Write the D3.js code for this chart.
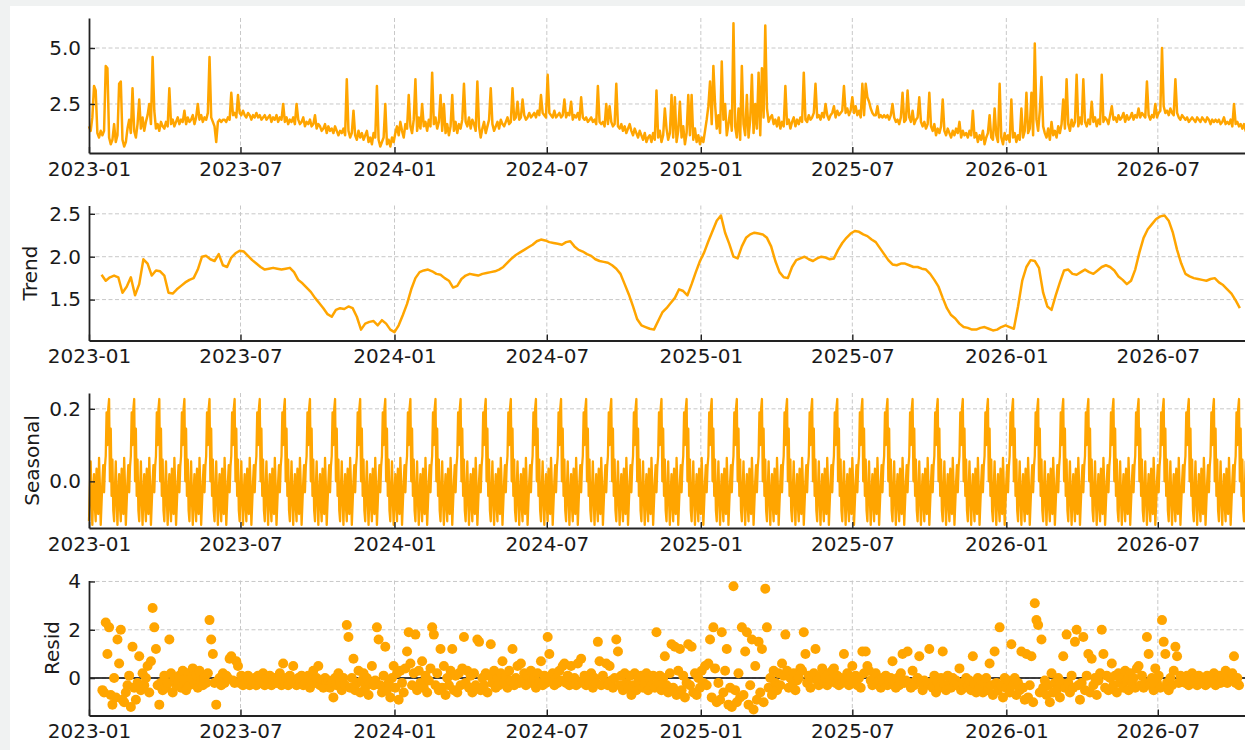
<!DOCTYPE html>
<html>
<head>
<meta charset="utf-8">
<script src="https://cdn.jsdelivr.net/npm/d3@7"></script>
<style>
  body { margin: 0; background: #fff; }
  svg { display: block; font-family: "DejaVu Sans", sans-serif; }
</style>
</head>
<body>
<svg id="chart" width="1245" height="750"></svg>
<script>
// ---- data ----
const startDate = "2023-01-01";
const endDay = 1390;

// observed, one value every 2 days from day 0
const observedStep = 2;
const observed = [
  1.5,1.3,1.9,3.3,3.1,1.2,1.0,1.3,1.1,1.3,4.2,4.1,1.0,0.7,0.9,
  1.6,0.8,1.1,3.4,3.5,0.9,0.6,0.8,1.4,1.8,1.2,3.2,1.3,1.0,1.6,
  2.7,1.4,1.9,1.3,1.7,2.0,2.5,1.6,4.6,2.2,1.4,1.6,1.3,1.7,1.5,
  1.4,1.7,1.5,3.2,1.6,1.8,1.5,1.7,1.9,1.6,1.8,1.7,2.2,1.6,1.9,
  1.7,1.8,2.0,1.6,1.9,2.5,1.8,2.0,1.7,1.9,1.8,2.1,4.6,1.9,1.7,
  1.5,0.8,1.7,1.8,1.7,1.8,1.8,1.7,1.9,1.8,3.0,2.0,2.1,1.9,2.9,
  2.1,2.0,2.2,2.0,1.9,2.1,2.0,1.8,2.0,1.9,2.1,1.9,2.0,1.8,1.9,
  2.0,1.8,1.9,2.0,1.7,1.9,1.8,2.0,1.7,1.9,1.8,2.5,1.7,1.9,1.6,
  1.8,1.7,1.9,1.6,2.5,1.8,1.6,1.7,1.9,1.5,1.7,1.6,1.8,1.5,1.6,
  2.0,1.4,1.6,1.5,1.3,1.4,1.6,1.2,1.5,1.3,1.4,1.2,1.5,1.3,1.1,
  1.3,1.2,1.4,1.1,3.6,1.3,1.0,1.2,2.2,1.1,0.9,1.3,1.0,1.2,0.9,
  1.1,1.3,0.8,1.0,0.7,1.2,1.0,3.3,0.9,0.6,0.8,1.0,2.5,0.7,0.9,
  0.6,1.0,0.8,1.2,1.5,1.1,1.7,1.3,1.0,1.6,1.4,2.9,1.5,1.2,1.8,
  3.6,1.3,1.9,1.4,2.5,1.5,1.7,1.3,1.8,1.5,3.9,1.6,1.9,1.4,1.7,
  2.9,1.3,2.5,1.2,1.6,1.1,1.5,2.9,1.3,1.7,1.2,1.6,1.4,1.8,3.4,
  1.7,1.5,1.9,1.4,1.8,1.6,1.3,3.5,1.5,1.0,1.4,1.7,1.2,1.5,1.8,
  3.2,1.6,1.3,1.5,1.7,1.4,1.8,1.6,1.5,1.7,1.9,1.6,1.7,3.2,1.8,
  1.9,2.6,1.8,1.9,2.7,2.0,1.8,1.9,2.1,1.9,2.0,2.1,1.9,2.2,2.0,
  2.9,2.1,2.0,1.9,3.8,2.1,2.0,1.9,2.2,1.9,2.0,2.1,1.9,2.0,2.7,
  1.9,2.1,2.0,2.6,1.8,2.0,1.9,2.1,1.8,2.8,1.9,1.8,1.9,1.7,1.8,
  1.9,1.7,1.8,1.6,3.3,1.7,1.6,1.7,1.5,2.5,1.6,2.4,1.7,1.5,1.6,
  3.4,1.5,1.4,1.6,1.3,1.5,1.2,1.4,1.6,1.3,1.1,1.4,1.2,1.0,1.3,
  1.1,0.9,1.2,0.8,1.0,1.1,0.8,1.2,0.9,3.1,1.0,1.3,0.8,1.1,2.3,
  1.4,0.9,1.2,2.9,1.0,2.8,0.8,1.3,2.6,1.0,1.5,0.7,1.2,2.9,1.1,
  2.9,0.9,1.4,0.8,1.1,0.7,1.0,0.8,1.3,1.8,2.4,3.5,1.6,4.2,2.5,
  1.4,2.0,1.2,4.4,1.8,2.5,1.1,1.6,2.2,1.3,6.1,1.5,1.0,2.3,0.9,
  4.2,1.6,1.1,2.9,1.0,1.8,3.8,1.2,2.5,1.4,3.9,1.1,4.1,1.9,6.0,
  2.3,1.7,1.9,2.0,1.6,1.8,1.5,1.9,1.4,1.7,1.5,3.3,1.6,1.8,1.4,
  1.7,1.9,1.5,1.8,1.6,1.9,1.7,3.9,1.8,1.7,2.0,1.8,1.9,2.1,3.4,
  1.9,2.0,1.8,2.1,1.9,2.5,2.0,1.8,2.0,2.1,2.4,1.9,2.2,2.0,2.1,
  2.2,3.3,2.1,2.3,2.0,2.2,2.8,2.1,2.4,2.0,2.2,1.9,3.4,2.0,3.4,
  2.8,2.6,2.3,2.1,2.0,2.0,2.4,1.9,2.0,1.9,2.0,1.9,2.0,1.8,2.0,
  2.5,1.9,1.7,1.8,1.6,1.9,3.0,1.7,1.8,3.1,1.9,1.7,2.2,1.6,1.8,
  1.9,2.8,1.7,1.5,1.7,1.4,1.6,3.0,1.5,1.3,1.6,1.1,1.4,1.2,1.5,
  2.7,1.3,1.1,1.4,1.2,1.0,1.3,1.1,1.4,1.2,1.7,1.0,1.3,1.1,1.2,
  1.0,1.3,1.1,2.2,1.0,1.2,0.8,1.1,0.9,1.3,0.7,1.0,1.2,2.0,1.0,
  0.9,2.3,1.1,0.8,3.4,1.0,0.7,1.2,0.9,1.1,0.8,2.7,1.0,1.2,0.8,
  1.1,0.9,2.3,1.0,1.3,3.0,1.2,1.4,3.0,1.1,5.2,1.8,1.3,2.2,3.7,
  1.5,1.2,1.0,1.4,0.9,1.7,1.1,1.3,1.0,1.5,1.2,1.6,2.7,1.4,3.6,
  1.6,1.3,1.8,1.5,1.7,3.8,1.5,1.9,1.6,3.6,1.7,1.5,1.8,1.6,2.6,
  1.7,1.9,1.5,1.8,1.6,3.8,1.7,1.9,1.8,1.6,2.0,2.4,1.8,1.9,1.7,
  2.0,1.8,1.9,2.1,1.7,2.0,1.8,1.9,2.1,1.8,2.0,1.9,2.3,1.9,2.1,
  2.0,1.9,3.5,2.0,1.8,2.0,1.9,2.5,1.9,2.1,2.2,5.0,2.4,2.1,2.2,
  2.0,2.3,2.1,2.0,3.6,2.1,1.9,1.8,2.0,1.9,1.8,1.9,1.7,1.8,1.9,
  1.8,1.7,1.9,1.8,1.7,1.9,1.8,1.7,1.9,1.8,1.6,1.8,1.7,1.8,1.7,
  1.8,1.6,1.7,1.9,1.6,1.7,1.6,1.8,1.5,2.5,1.6,1.7,1.5,1.6,1.4,
  1.6,1.3,1.5,1.3,1.4,1.3
];

// trend, one value every 5 days from day 15
const trendStartDay = 15, trendStep = 5;
const trend = [
  1.79,1.72,1.76,1.78,1.76,1.58,1.65,1.76,1.55,1.68,
  1.97,1.92,1.78,1.84,1.83,1.78,1.58,1.57,1.62,1.66,
  1.70,1.73,1.75,1.85,2.00,2.01,1.97,1.95,2.03,1.90,
  1.88,1.99,2.04,2.07,2.06,2.01,1.96,1.92,1.88,1.85,
  1.86,1.87,1.86,1.85,1.86,1.87,1.82,1.73,1.69,1.64,
  1.59,1.52,1.46,1.40,1.33,1.30,1.38,1.40,1.39,1.42,
  1.40,1.30,1.15,1.22,1.24,1.25,1.20,1.26,1.22,1.15,
  1.12,1.20,1.32,1.45,1.62,1.75,1.82,1.84,1.85,1.83,
  1.80,1.79,1.75,1.72,1.64,1.66,1.74,1.78,1.80,1.79,
  1.78,1.80,1.81,1.82,1.83,1.85,1.88,1.93,1.98,2.02,
  2.05,2.08,2.11,2.14,2.18,2.20,2.19,2.17,2.16,2.15,
  2.14,2.17,2.18,2.12,2.08,2.06,2.03,2.01,1.97,1.95,
  1.94,1.93,1.90,1.86,1.80,1.68,1.56,1.42,1.27,1.20,
  1.18,1.16,1.15,1.25,1.35,1.40,1.46,1.52,1.62,1.60,
  1.55,1.68,1.82,1.95,2.05,2.18,2.30,2.42,2.48,2.28,
  2.15,2.00,1.98,2.12,2.22,2.26,2.28,2.27,2.26,2.22,
  2.12,1.95,1.82,1.76,1.75,1.88,1.96,1.98,2.00,1.97,
  1.95,1.98,2.00,1.99,1.97,1.98,2.08,2.16,2.22,2.27,
  2.30,2.29,2.26,2.24,2.20,2.17,2.10,2.03,1.96,1.91,
  1.90,1.92,1.92,1.90,1.88,1.88,1.86,1.85,1.80,1.73,
  1.65,1.52,1.40,1.32,1.28,1.22,1.18,1.17,1.15,1.15,
  1.17,1.18,1.16,1.14,1.15,1.18,1.20,1.18,1.16,1.42,
  1.72,1.88,1.96,1.95,1.87,1.58,1.42,1.38,1.55,1.70,
  1.84,1.85,1.80,1.79,1.82,1.85,1.82,1.80,1.84,1.88,
  1.90,1.88,1.84,1.77,1.73,1.68,1.72,1.85,2.05,2.22,
  2.32,2.38,2.44,2.47,2.48,2.42,2.28,2.08,1.92,1.80,
  1.77,1.75,1.74,1.73,1.72,1.74,1.75,1.70,1.67,1.62,
  1.57,1.49,1.40
];

// seasonal: one 30-day period, aligned so index 0 is day 0
const seasonalCycle = [
  -0.11,-0.02,0.055,-0.05,-0.12,-0.03,0.02,-0.07,-0.11,0.035,
  -0.02,-0.09,0.065,-0.01,-0.12,-0.06,0.00,0.045,-0.03,0.04,
  0.07,0.19,0.10,0.20,0.227,0.00,0.145,-0.04,0.06,-0.08
];

// residuals, one value every 2 days from day 16
const residStartDay = 16, residStep = 2;
const resid = [
  -0.5,-0.6,2.3,1.0,2.1,-0.7,-1.1,0.0,-0.8,1.6,0.6,2.0,-0.9,-1.0,-0.6,
  -0.3,0.1,-1.2,1.3,-0.4,-0.9,-0.2,0.9,-0.5,0.2,-0.3,0.0,0.5,-0.6,0.7,
  2.9,2.1,1.2,-0.3,-1.1,-0.2,-0.5,0.1,-0.4,-0.2,1.6,0.2,-0.6,0.0,-0.3,
  -0.2,0.1,-0.4,0.3,-0.1,-0.5,0.2,-0.3,0.0,0.4,-0.2,0.1,-0.4,0.3,-0.1,
  -0.3,0.0,-0.2,0.2,2.4,1.6,1.0,-0.2,-1.1,-0.1,0.0,-0.3,0.2,-0.2,0.1,
  0.0,0.8,0.9,-0.1,-0.2,0.7,0.5,-0.2,0.1,-0.3,0.0,-0.2,0.1,-0.3,-0.1,
  -0.2,0.0,-0.3,0.1,-0.2,-0.1,0.2,-0.3,0.0,-0.2,0.1,-0.3,-0.1,0.0,-0.2,
  -0.1,0.2,-0.3,0.6,-0.2,0.0,-0.3,0.1,-0.2,0.5,-0.1,-0.3,0.0,-0.2,0.1,
  -0.3,0.0,-0.2,0.1,-0.4,-0.1,0.3,-0.2,0.0,0.5,-0.3,-0.1,-0.4,0.0,-0.2,
  -0.1,-0.4,-0.2,-0.8,0.0,-0.3,0.2,-0.2,-0.5,0.0,-0.3,2.2,1.7,-0.4,0.0,
  0.8,-0.5,-0.2,0.3,-0.6,-0.1,0.2,-0.4,0.0,-0.7,-0.2,0.5,-0.3,-0.1,2.1,
  1.6,-0.3,-0.6,0.1,1.3,-0.5,-0.2,-0.8,0.0,0.5,-0.4,0.2,-0.9,0.3,-0.2,
  -0.6,0.4,1.1,1.9,0.6,-0.3,0.2,1.8,-0.5,0.3,-0.2,0.7,-0.4,0.1,-0.6,
  -0.1,0.4,2.1,1.8,-0.3,0.2,-0.5,1.2,-0.4,0.5,-0.7,0.0,-0.3,0.3,1.2,
  -0.5,0.1,-0.6,0.2,-0.3,0.4,1.7,-0.2,0.3,-0.4,0.1,-0.6,0.2,-0.3,1.6,
  1.5,-0.5,0.0,-0.3,0.2,-0.6,0.1,1.4,-0.2,0.3,-0.4,0.0,-0.3,0.2,0.7,
  -0.2,0.1,-0.4,0.3,-0.1,1.2,-0.3,0.0,0.5,-0.2,0.6,-0.1,0.2,-0.3,0.1,
  -0.2,0.3,-0.1,0.0,-0.4,0.2,-0.2,0.7,-0.3,0.1,-0.2,1.7,1.0,-0.1,0.2,
  -0.3,0.0,-0.2,0.3,-0.1,0.5,0.6,-0.2,0.1,-0.3,0.5,-0.1,0.0,-0.3,0.6,
  -0.2,0.8,-0.1,0.1,-0.3,0.0,-0.2,0.2,-0.4,0.0,-0.2,1.5,0.7,-0.3,0.1,
  -0.2,0.6,-0.3,0.5,-0.1,-0.4,0.0,1.6,1.1,-0.3,0.1,-0.5,0.2,-0.2,-0.4,
  0.1,-0.7,-0.3,0.2,-0.5,0.0,-0.3,0.1,-0.4,-0.2,0.2,-0.5,0.0,-0.3,0.1,
  -0.4,1.9,-0.2,0.1,-0.5,0.0,0.9,-0.3,-0.6,0.2,1.4,-0.4,1.3,-0.7,0.3,
  1.2,-0.5,0.1,-0.8,-0.2,1.4,-0.3,1.3,-0.6,0.2,-0.7,0.0,-0.4,0.3,-0.2,
  0.5,-0.3,0.6,1.6,-0.8,2.1,0.4,-1.0,-0.2,-0.9,1.9,-0.6,0.3,1.2,-1.1,
  -0.4,-1.2,3.8,-0.5,-1.0,0.2,-0.8,2.1,-0.7,1.1,1.9,-1.1,-0.3,1.6,-1.3,
  0.5,-0.9,1.5,-0.6,1.2,-1.0,3.7,2.1,-0.4,0.0,-0.7,0.3,-0.2,-0.5,0.2,
  -0.3,0.6,0.1,1.8,0.3,-0.4,0.0,-0.3,0.2,-0.5,-0.1,0.0,0.4,0.3,1.9,
  1.0,-0.2,0.1,-0.4,0.0,0.2,1.2,-0.1,-0.3,0.1,0.4,-0.2,0.0,-0.3,0.2,
  -0.1,0.3,0.4,-0.2,0.1,-0.3,0.0,-0.2,1.0,-0.1,0.2,-0.3,0.0,0.5,-0.2,
  0.1,-0.3,0.0,-0.4,1.1,0.2,1.1,0.5,0.3,-0.1,-0.3,0.0,0.2,-0.2,-0.1,
  -0.4,0.0,-0.2,0.1,-0.3,-0.1,0.0,0.7,-0.2,-0.4,0.0,-0.3,0.2,1.0,-0.2,
  -0.1,1.1,-0.2,-0.4,0.3,-0.3,-0.1,0.0,0.9,-0.2,-0.5,-0.1,-0.3,-0.2,1.2,
  -0.2,-0.4,0.1,-0.6,-0.2,-0.4,0.0,1.1,-0.3,-0.5,0.1,-0.2,-0.4,0.0,-0.3,
  -0.1,-0.3,0.4,-0.5,-0.2,-0.4,0.0,-0.3,-0.1,-0.5,0.9,-0.2,-0.6,0.0,-0.4,
  -0.1,-0.6,-0.2,0.0,-0.5,0.6,-0.3,-0.7,1.1,-0.2,-0.5,2.1,-0.3,-0.8,0.0,
  -0.4,-0.1,-0.6,1.4,-0.3,0.0,-0.7,-0.2,-0.5,1.1,-0.4,-0.9,1.0,-0.8,-0.3,
  0.9,-1.0,3.1,2.4,2.2,-0.6,1.6,-0.4,-0.1,-0.7,-0.3,-1.0,0.2,-0.6,-0.2,
  -0.5,0.0,-0.8,-0.2,0.9,-0.4,1.8,-0.2,-0.6,0.1,-0.4,1.5,2.0,-0.3,-0.9,
  -0.2,1.7,-0.5,0.1,1.0,-0.6,0.8,-0.3,0.0,-0.7,-0.1,0.2,2.0,1.0,-0.4,
  0.1,-0.5,0.0,0.6,-0.3,0.1,-0.6,0.2,-0.2,0.0,-0.4,0.3,-0.1,-0.5,0.2,
  -0.2,0.0,-0.4,0.4,0.5,-0.3,0.1,-0.4,-0.2,1.7,1.0,-0.3,0.0,-0.5,0.4,
  -0.2,0.1,-0.4,2.4,1.5,1.0,-0.2,-0.5,0.0,-0.3,0.3,1.3,0.9,-0.2,0.1,
  -0.1,0.0,-0.2,0.1,-0.3,-0.1,0.2,-0.2,0.0,-0.3,0.1,-0.1,-0.2,0.0,-0.3,
  0.1,-0.2,0.0,-0.1,0.2,-0.3,-0.1,0.1,-0.2,0.0,-0.1,0.3,-0.2,0.0,-0.1,
  0.2,0.9,-0.2,0.0,-0.3
];

// axis ticks
const xTickLabels = ["2023-01","2023-07","2024-01","2024-07","2025-01","2025-07","2026-01","2026-07"];
const observedTicks = [2.5, 5.0];
const trendTicks = [1.5, 2.0, 2.5];
const seasonalTicks = [0.0, 0.2];
const residTicks = [0, 2, 4];

// ---- drawing ----
const svg = d3.select("#chart");
const COLOR = "#FFA500";
const H = 135;

svg.append("rect").attr("width", 1245).attr("height", 6).attr("fill", "#f0f2f2");
svg.append("rect").attr("width", 10).attr("height", 750).attr("fill", "#f0f2f2");

const t0 = d3.utcParse("%Y-%m-%d")(startDate);
const dayDate = d => d3.utcDay.offset(t0, d);
const x = d3.scaleUtc().domain([t0, dayDate(endDay)]).range([89, 1252.4]);
const xTicks = xTickLabels.map(d3.utcParse("%Y-%m"));

const panels = [
  {top: 18,    domain: [0.31, 6.34],     ticks: observedTicks, fmt: d3.format(".1f"), label: null},
  {top: 205.5, domain: [1.023, 2.597],   ticks: trendTicks,    fmt: d3.format(".1f"), label: "Trend", lx: 30},
  {top: 393,   domain: [-0.1286, 0.2436], ticks: seasonalTicks, fmt: d3.format(".1f"), label: "Seasonal", lx: 31.5},
  {top: 580.5, domain: [-1.55, 4.04],    ticks: residTicks,    fmt: d3.format("d"),   label: "Resid", lx: 52}
];

panels.forEach(p => {
  p.y = d3.scaleLinear().domain(p.domain).range([p.top + H, p.top]);
  const g = svg.append("g");

  // dashed grid
  g.selectAll(".vgrid").data(xTicks.slice(1)).join("line")
    .attr("x1", d => x(d)).attr("x2", d => x(d))
    .attr("y1", p.top).attr("y2", p.top + H)
    .attr("stroke", "#c8c8c8").attr("stroke-width", 1).attr("stroke-dasharray", "4,2.5");
  g.selectAll(".hgrid").data(p.ticks).join("line")
    .attr("x1", 89).attr("x2", 1252)
    .attr("y1", d => p.y(d)).attr("y2", d => p.y(d))
    .attr("stroke", "#c8c8c8").attr("stroke-width", 1).attr("stroke-dasharray", "4,2.5");

  p.g = g;
});

function styleAxis(ax) {
  ax.attr("font-size", 20).attr("font-family", "DejaVu Sans, sans-serif");
  ax.select(".domain").attr("stroke", "#222").attr("stroke-width", 1.8);
  ax.selectAll(".tick line").attr("stroke", "#222").attr("stroke-width", 1.4);
  ax.selectAll(".tick text").attr("fill", "#1a1a1a");
}

// panel 1: observed
const p1 = panels[0];
p1.g.append("path")
  .datum(observed)
  .attr("fill", "none").attr("stroke", COLOR).attr("stroke-width", 2.5)
  .attr("stroke-linejoin", "round")
  .attr("d", d3.line().x((v, i) => x(dayDate(i * observedStep))).y(v => p1.y(v)));

// panel 2: trend
const p2 = panels[1];
p2.g.append("path")
  .datum(trend)
  .attr("fill", "none").attr("stroke", COLOR).attr("stroke-width", 2.5)
  .attr("stroke-linejoin", "round")
  .attr("d", d3.line().x((v, i) => x(dayDate(trendStartDay + i * trendStep))).y(v => p2.y(v)));

// panel 3: seasonal (same period repeated over the index)
const p3 = panels[2];
const seasonalDays = d3.range(0, endDay + 1);
p3.g.append("path")
  .datum(seasonalDays)
  .attr("fill", "none").attr("stroke", COLOR).attr("stroke-width", 2.3)
  .attr("stroke-linejoin", "round")
  .attr("d", d3.line().x(d => x(dayDate(d))).y(d => p3.y(seasonalCycle[d % seasonalCycle.length])));

// panel 4: residual dots with zero line
const p4 = panels[3];
p4.g.append("line")
  .attr("x1", 89).attr("x2", 1252)
  .attr("y1", p4.y(0)).attr("y2", p4.y(0))
  .attr("stroke", "#000").attr("stroke-width", 1.5);
p4.g.selectAll(".dot").data(resid).join("circle")
  .attr("cx", (v, i) => x(dayDate(residStartDay + i * residStep)))
  .attr("cy", v => p4.y(v))
  .attr("r", 5)
  .attr("fill", COLOR);

// axes on top
panels.forEach(p => {
  const ax = svg.append("g")
    .attr("transform", `translate(0,${p.top + H})`)
    .call(d3.axisBottom(x).tickValues(xTicks).tickFormat(d3.utcFormat("%Y-%m"))
      .tickSizeInner(-6).tickSizeOuter(0).tickPadding(8.5));
  styleAxis(ax);

  const ay = svg.append("g")
    .attr("transform", "translate(89,0)")
    .call(d3.axisLeft(p.y).tickValues(p.ticks).tickFormat(p.fmt)
      .tickSizeInner(-6).tickSizeOuter(0).tickPadding(8));
  styleAxis(ay);

  if (p.label) {
    svg.append("text")
      .attr("transform", `translate(${p.lx},${p.top + H / 2}) rotate(-90)`)
      .attr("text-anchor", "middle")
      .attr("dy", "0.35em")
      .attr("font-size", 20)
      .attr("fill", "#1a1a1a")
      .text(p.label);
  }
});
</script>
</body>
</html>
